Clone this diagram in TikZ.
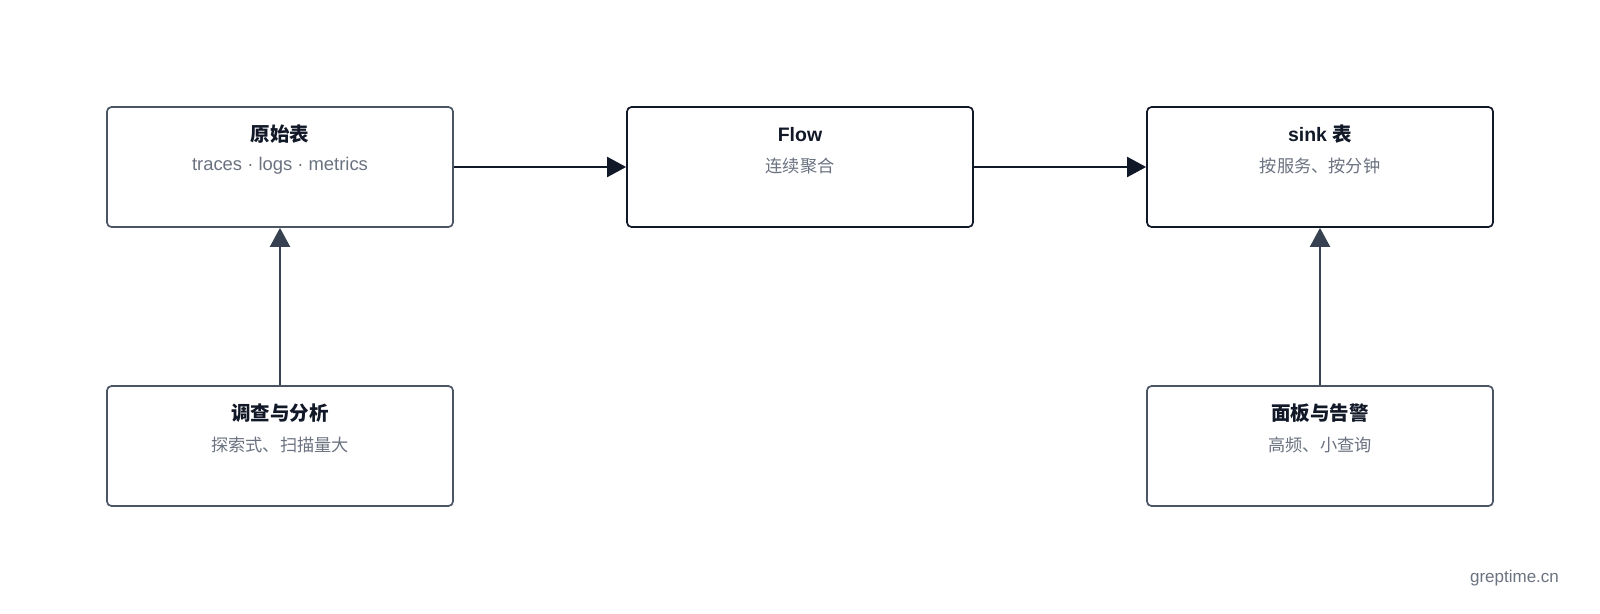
\documentclass[tikz,border=0pt]{standalone}
\usepackage{fontspec}
\setmainfont{Liberation Sans}
\newfontfamily\cjk{Noto Sans CJK SC}
\usetikzlibrary{arrows.meta,positioning}
\definecolor{ink}{HTML}{111827}
\definecolor{slate}{HTML}{374151}
\definecolor{edge}{HTML}{4B5563}
\definecolor{muted}{HTML}{6B7280}

\tikzset{
  box/.style={draw=#1, line width=1.7pt, rounded corners=4.5pt, fill=white,
    minimum width=346pt, minimum height=120pt, inner sep=0pt},
  box/.default=edge,
  title/.style={text=ink, font=\cjk\bfseries\fontsize{19.5}{21}\selectfont, inner sep=0pt},
  sub/.style={text=muted, font=\cjk\fontsize{17.2}{19}\selectfont, inner sep=0pt},
  flow/.style={draw=#1, line width=2pt, -{Triangle[length=19pt,width=20pt]}},
  flow/.default=ink
}

\begin{document}
\begin{tikzpicture}[x=1pt,y=-1pt]
        \useasboundingbox (0,0) rectangle (1600,613);
        % boxes
        \node[box] (raw) at (280,167) {};
        \node[box=ink] (flow) at (800,167) {};
        \node[box=ink] (sink) at (1320,167) {};
        \node[box] (probe) at (280,446) {};
        \node[box] (dash) at (1320,446) {};
        % texts
        \node[title] at ([yshift=-28pt]raw.north) {原始表};
        \node[sub,font=\fontsize{18.4}{20}\selectfont] at ([yshift=-59.5pt]raw.north) {traces · logs · metrics};
        \node[title,font=\bfseries\fontsize{19.5}{21}\selectfont] at ([yshift=-28pt]flow.north) {Flow};
        \node[sub] at ([yshift=-60pt]flow.north) {连续聚合};
        \node[title,font=\bfseries\fontsize{19.5}{21}\selectfont] at ([yshift=-28pt]sink.north) {sink {\cjk 表}};
        \node[sub] at ([yshift=-60pt]sink.north) {按服务、按分钟};
        \node[title] at ([yshift=-28pt]probe.north) {调查与分析};
        \node[sub] at ([yshift=-60pt]probe.north) {探索式、扫描量大};
        \node[title] at ([yshift=-28pt]dash.north) {面板与告警};
        \node[sub] at ([yshift=-60pt]dash.north) {高频、小查询};
        % arrows
        \draw[flow] (raw) -- (flow);
        \draw[flow] (flow) -- (sink);
        \draw[flow=slate] (probe) -- (raw);
        \draw[flow=slate] (dash) -- (sink);
        \node[sub,font=\fontsize{17}{19}\selectfont] (mark) at (1514.5,578) {greptime.cn};
      \end{tikzpicture}
\end{document}
